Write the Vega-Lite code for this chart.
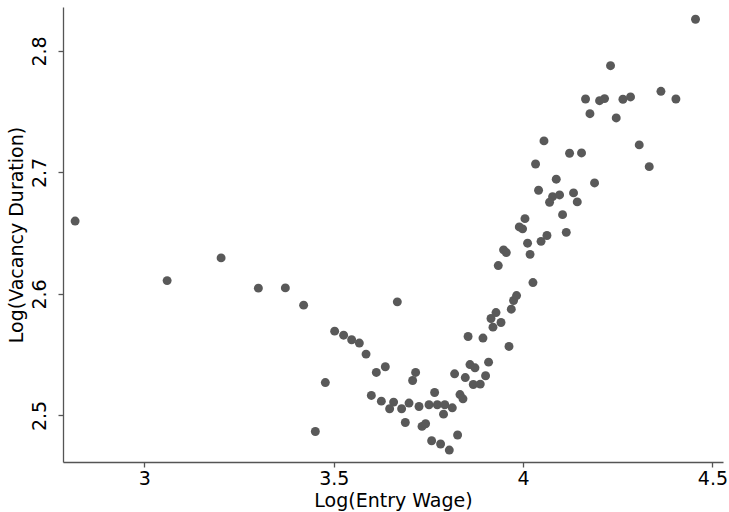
{
  "$schema": "https://vega.github.io/schema/vega-lite/v6.json",
  "autosize": "none",
  "width": 660,
  "height": 455,
  "padding": {"left": 63, "top": 7, "right": 6, "bottom": 50},
  "background": "white",
  "config": {
    "view": {"stroke": null},
    "font": "DejaVu Sans",
    "axis": {
      "grid": false,
      "domainColor": "#555555",
      "domainWidth": 1.3,
      "tickColor": "#555555",
      "tickWidth": 1.3,
      "tickSize": 5,
      "labelFont": "DejaVu Sans",
      "labelFontSize": 19,
      "labelColor": "#000000",
      "titleFont": "DejaVu Sans",
      "titleFontSize": 19,
      "titleFontWeight": "normal",
      "titleColor": "#000000"
    }
  },
  "data": {
    "values": [
      {"wage": 2.817, "duration": 2.660},
      {"wage": 3.060, "duration": 2.611},
      {"wage": 3.2025, "duration": 2.6297},
      {"wage": 3.301, "duration": 2.6048},
      {"wage": 3.3722, "duration": 2.6050},
      {"wage": 3.4205, "duration": 2.5908},
      {"wage": 3.6679, "duration": 2.5935},
      {"wage": 3.5024, "duration": 2.5694},
      {"wage": 3.5261, "duration": 2.5661},
      {"wage": 3.5473, "duration": 2.5623},
      {"wage": 3.5676, "duration": 2.5596},
      {"wage": 3.5853, "duration": 2.5505},
      {"wage": 3.6362, "duration": 2.5401},
      {"wage": 3.6125, "duration": 2.5354},
      {"wage": 3.4778, "duration": 2.5271},
      {"wage": 3.7162, "duration": 2.5354},
      {"wage": 3.7083, "duration": 2.5288},
      {"wage": 3.5993, "duration": 2.5165},
      {"wage": 3.6257, "duration": 2.5118},
      {"wage": 3.6581, "duration": 2.5110},
      {"wage": 3.6476, "duration": 2.5055},
      {"wage": 3.6793, "duration": 2.5055},
      {"wage": 3.6988, "duration": 2.5102},
      {"wage": 3.7252, "duration": 2.5074},
      {"wage": 3.7516, "duration": 2.5088},
      {"wage": 3.7735, "duration": 2.5088},
      {"wage": 3.7933, "duration": 2.5088},
      {"wage": 3.8131, "duration": 2.5063},
      {"wage": 3.7899, "duration": 2.5011},
      {"wage": 3.7664, "duration": 2.5189},
      {"wage": 3.6890, "duration": 2.4942},
      {"wage": 3.7331, "duration": 2.4910},
      {"wage": 3.7426, "duration": 2.4932},
      {"wage": 3.4514, "duration": 2.4868},
      {"wage": 3.7585, "duration": 2.4792},
      {"wage": 3.7822, "duration": 2.4765},
      {"wage": 3.8052, "duration": 2.4715},
      {"wage": 3.8271, "duration": 2.4839},
      {"wage": 3.8548, "duration": 2.5650},
      {"wage": 3.8941, "duration": 2.5637},
      {"wage": 3.8192, "duration": 2.5343},
      {"wage": 3.8474, "duration": 2.5312},
      {"wage": 3.8598, "duration": 2.5419},
      {"wage": 3.8730, "duration": 2.5392},
      {"wage": 3.8685, "duration": 2.5255},
      {"wage": 3.8870, "duration": 2.5258},
      {"wage": 3.8334, "duration": 2.5172},
      {"wage": 3.8413, "duration": 2.5137},
      {"wage": 3.9010, "duration": 2.5327},
      {"wage": 3.9089, "duration": 2.5439},
      {"wage": 3.9628, "duration": 2.5568},
      {"wage": 3.9205, "duration": 2.5727},
      {"wage": 3.9417, "duration": 2.5765},
      {"wage": 3.9153, "duration": 2.5798},
      {"wage": 3.9285, "duration": 2.5847},
      {"wage": 3.9689, "duration": 2.5875},
      {"wage": 3.9749, "duration": 2.5946},
      {"wage": 3.9828, "duration": 2.5987},
      {"wage": 4.0261, "duration": 2.6094},
      {"wage": 3.9345, "duration": 2.6234},
      {"wage": 3.9485, "duration": 2.6363},
      {"wage": 3.9557, "duration": 2.6341},
      {"wage": 4.0185, "duration": 2.6326},
      {"wage": 4.0119, "duration": 2.6418},
      {"wage": 4.0475, "duration": 2.6433},
      {"wage": 4.0631, "duration": 2.6481},
      {"wage": 4.1141, "duration": 2.6507},
      {"wage": 3.9900, "duration": 2.6552},
      {"wage": 3.9987, "duration": 2.6536},
      {"wage": 4.0552, "duration": 2.7260},
      {"wage": 4.1228, "duration": 2.7158},
      {"wage": 4.1544, "duration": 2.7161},
      {"wage": 4.3068, "duration": 2.7227},
      {"wage": 4.3332, "duration": 2.7048},
      {"wage": 4.0330, "duration": 2.7070},
      {"wage": 4.0876, "duration": 2.6945},
      {"wage": 4.1888, "duration": 2.6914},
      {"wage": 4.0409, "duration": 2.6854},
      {"wage": 4.0779, "duration": 2.6801},
      {"wage": 4.0964, "duration": 2.6815},
      {"wage": 4.0700, "duration": 2.6755},
      {"wage": 4.1333, "duration": 2.6832},
      {"wage": 4.1431, "duration": 2.6758},
      {"wage": 4.1043, "duration": 2.6653},
      {"wage": 4.0050, "duration": 2.6620},
      {"wage": 4.4554, "duration": 2.8261},
      {"wage": 4.2310, "duration": 2.7879},
      {"wage": 4.1650, "duration": 2.7605},
      {"wage": 4.2020, "duration": 2.7591},
      {"wage": 4.2152, "duration": 2.7608},
      {"wage": 4.2637, "duration": 2.7603},
      {"wage": 4.2838, "duration": 2.7622},
      {"wage": 4.3641, "duration": 2.7668},
      {"wage": 4.4036, "duration": 2.7605},
      {"wage": 4.1766, "duration": 2.7484},
      {"wage": 4.2460, "duration": 2.7449}
    ]
  },
  "mark": {"type": "circle", "size": 80, "color": "#595959", "opacity": 1},
  "encoding": {
    "x": {
      "field": "wage",
      "type": "quantitative",
      "scale": {"domain": [2.785, 4.528], "nice": false, "zero": false},
      "axis": {
        "title": "Log(Entry Wage)",
        "values": [3, 3.5, 4, 4.5],
        "format": "~g",
        "labelPadding": 2,
        "titlePadding": 3
      }
    },
    "y": {
      "field": "duration",
      "type": "quantitative",
      "scale": {"domain": [2.4617, 2.8362], "nice": false, "zero": false},
      "axis": {
        "title": "Log(Vacancy Duration)",
        "values": [2.5, 2.6, 2.7, 2.8],
        "format": ".1f",
        "labelAngle": -90,
        "labelAlign": "center",
        "labelBaseline": "alphabetic",
        "labelPadding": 13,
        "titlePadding": 4
      }
    }
  }
}
